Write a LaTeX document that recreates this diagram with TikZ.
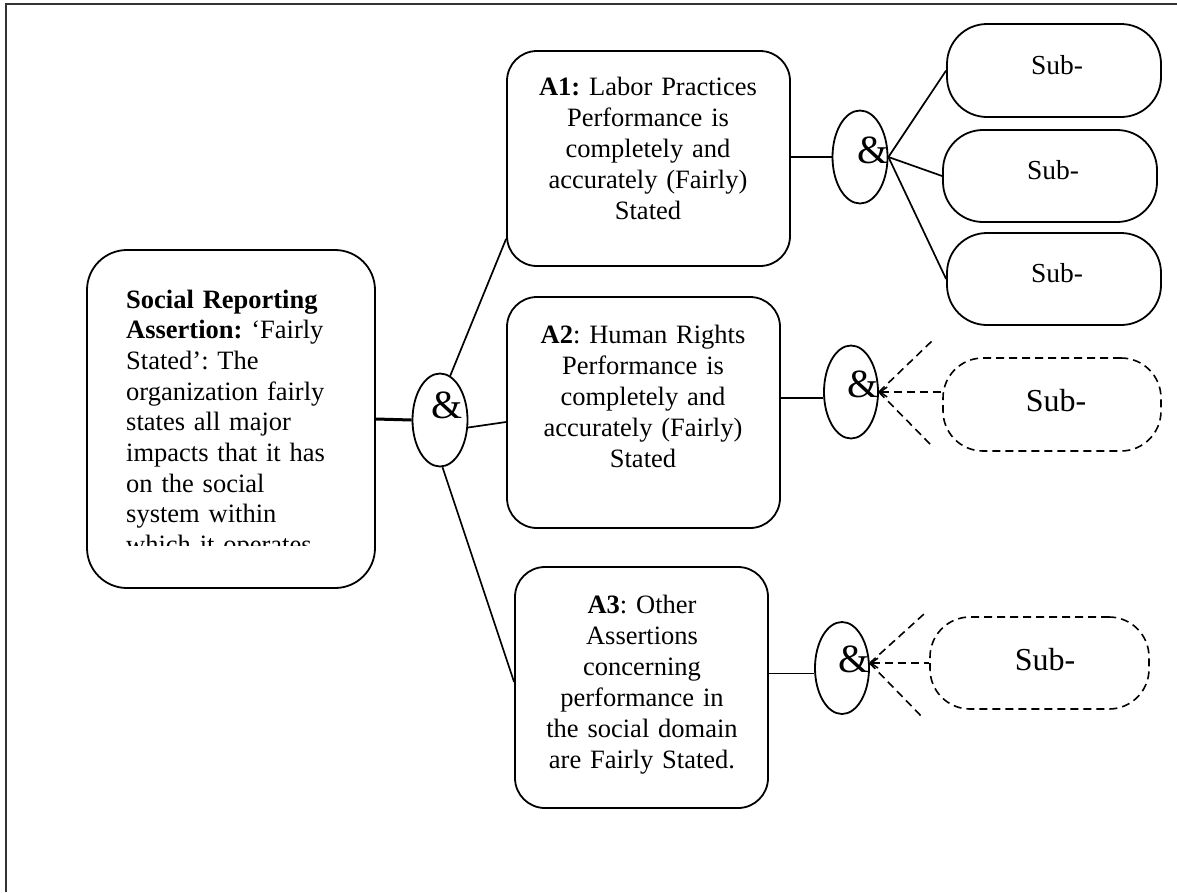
\documentclass[tikz,border=0pt]{standalone}
\usepackage{fontspec}
\setmainfont{Liberation Serif}
\usetikzlibrary{shapes.geometric,arrows.meta,calc}
\frenchspacing
\begin{document}
\begin{tikzpicture}[x=1pt,y=-1pt,
  abox/.style={draw, line width=1.8pt, rounded corners=30pt, inner sep=0pt},
  subbox/.style={draw, line width=1.8pt, rounded corners=40pt, inner sep=0pt, minimum width=214pt, minimum height=93pt},
  dbox/.style={subbox, line width=1.6pt, dash pattern=on 8pt off 5pt, minimum width=218pt},
  andnode/.style={draw, ellipse, line width=1.8pt, inner sep=0pt, minimum width=55pt, minimum height=93pt},
  amp/.style={inner sep=0pt, font=\fontsize{40}{40}\selectfont},
  atext/.style={inner sep=0pt, text width=280pt, align=center, anchor=base, font=\fontsize{26.5}{31}\selectfont},
  subtext/.style={inner sep=0pt, font=\fontsize{27.5}{27.5}\selectfont},
  dsubtext/.style={inner sep=0pt, font=\fontsize{32}{32}\selectfont},
  conn/.style={line width=1.7pt},
  dconn/.style={line width=1.6pt, dash pattern=on 8pt off 5pt},
  barb/.style={{Straight Barb[length=7pt,width=10pt,line width=1.5pt]}-}
]
\useasboundingbox (0,0) rectangle (1177,892);
\draw[line width=2.2pt, black!80] (6,892) -- (6,4) -- (1177,4);

% main box
\node[abox, rounded corners=40pt, minimum width=288pt, minimum height=338pt] (main) at (231,419) {};
\begin{scope}
\clip (90,255) rectangle (370,545);
\node[inner sep=0pt, text width=250pt, align=left, anchor=base west,
      font=\fontsize{26.5}{30.7}\selectfont] (maintext) at (126,308)
  {\textbf{Social Reporting}\\ \textbf{Assertion:} ‘Fairly\\ Stated’: The\\ organization fairly\\ states all major\\ impacts that it has\\ on the social\\ system within\\ which it operates};
\end{scope}

% A boxes
\node[abox, minimum width=283pt, minimum height=215pt] (a1) at (648.5,158.5) {};
\node[atext] (a1t) at (648,95) {\textbf{A1:} Labor Practices\\ Performance is\\ completely and\\ accurately (Fairly)\\ Stated};
\node[abox, minimum width=273pt, minimum height=231pt] (a2) at (643.5,412.5) {};
\node[atext] (a2t) at (643,343) {\textbf{A2}: Human Rights\\ Performance is\\ completely and\\ accurately (Fairly)\\ Stated};
\node[abox, minimum width=253pt, minimum height=241pt] (a3) at (641.5,687.5) {};
\node[atext] (a3t) at (642,613) {\textbf{A3}: Other\\ Assertions\\ concerning\\ performance in\\ the social domain\\ are Fairly Stated.};

% and nodes
\node[andnode] (e0) at (440,420) {};
\node[amp] (e0a) at (447,405) {\&};
\node[andnode] (e1) at (860,157) {};
\node[amp] (e1a) at (873,150) {\&};
\node[andnode, minimum width=54pt] (e2) at (851,392) {};
\node[amp] (e2a) at (863,384) {\&};
\node[andnode, minimum width=54pt, minimum height=92pt] (e3) at (842,668) {};
\node[amp] (e3a) at (854,659) {\&};

% sub boxes
\node[subbox] (s1) at (1054,70.5) {};
\node[subtext] (s1t) at (1057,65) {Sub-};
\node[subbox, minimum height=92pt] (s2) at (1050,176) {};
\node[subtext] (s2t) at (1053,170) {Sub-};
\node[subbox, minimum height=92pt] (s3) at (1054,279) {};
\node[subtext] (s3t) at (1057,273) {Sub-};
\node[dbox] (d1) at (1052,404.5) {};
\node[dsubtext] (d1t) at (1056,401) {Sub-};
\node[dbox, minimum width=219pt, minimum height=92pt] (d2) at (1039.5,663) {};
\node[dsubtext] (d2t) at (1045,660) {Sub-};

% connectors
\draw[line width=3pt] (main.east) -- (e0.west);
\draw[conn] (e0.77) -- ($(a1.south west)+(0,-28)$);
\draw[conn] (e0.-15) -- ($(a2.west)+(0,9.5)$);
\draw[conn] (e0.-87) -- ($(a3.west)+(0,-5.5)$);

\draw[conn] (a1.east |- e1.west) -- (e1.west);
\draw[conn] (e1.east) -- (s1.west);
\draw[conn] (e1.east) -- (s2.west);
\draw[conn] (e1.east) -- (s3.west);

\draw[conn] (e2.192) -- (e2.192 -| a2.east);
\coordinate (d1up) at (933,340);
\coordinate (d1dn) at (932,446);
\draw[dconn] (e2.east) -- (d1up);
\draw[dconn] (e2.east) -- (d1dn);
\draw[dconn, barb] (e2.east) -- (e2.east -| d1.west);

\draw[conn] (e3.191) -- (e3.191 -| a3.east);
\coordinate (d2up) at (924,614);
\coordinate (d2dn) at (924,719);
\draw[dconn] (e3.10) -- (d2up);
\draw[dconn] (e3.10) -- (d2dn);
\draw[dconn, barb] (e3.10) -- (e3.10 -| d2.west);
\end{tikzpicture}
\end{document}
